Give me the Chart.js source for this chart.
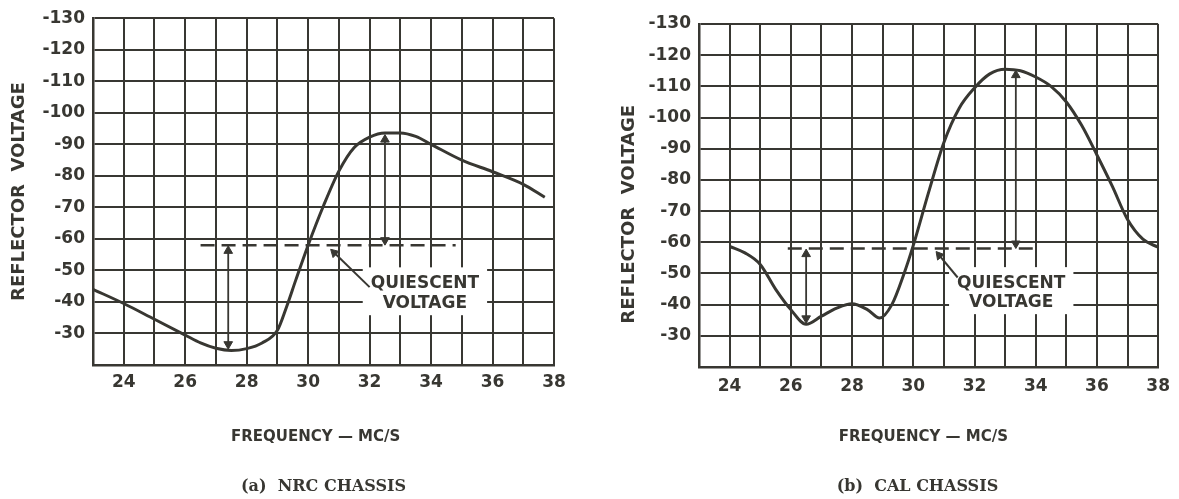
<!DOCTYPE html>
<html><head><meta charset="utf-8">
<script src="https://cdn.jsdelivr.net/npm/chart.js@4/dist/chart.umd.min.js"></script>
<style>
html,body{margin:0;padding:0;background:#fff;width:1179px;height:499px;overflow:hidden;}
.wrap{position:absolute;top:0;height:499px;}
#w1{left:0;width:590px;} #w2{left:590px;width:589px;}
canvas{display:block;}
</style></head><body>
<div class="wrap" id="w1"><canvas id="c1" width="590" height="499"></canvas></div>
<div class="wrap" id="w2"><canvas id="c2" width="589" height="499"></canvas></div>
<script>
// ---------- data ----------
const xTickValues = [24, 26, 28, 30, 32, 34, 36, 38];
const xTickLabels = ['24', '26', '28', '30', '32', '34', '36', '38'];
const yTickValues = [-130, -120, -110, -100, -90, -80, -70, -60, -50, -40, -30];
const yTickLabels = ['-130', '-120', '-110', '-100', '-90', '-80', '-70', '-60', '-50', '-40', '-30'];

// (a) NRC chassis
const nrcFreq = [23, 24, 25, 26, 26.5, 27, 27.5, 28, 28.5, 29, 29.3, 29.6, 30, 30.5, 31, 31.5, 32, 32.5, 33, 33.5, 34, 35, 36, 37, 37.7];
const nrcVolt = [-44, -39.5, -34.5, -29.5, -27, -25.3, -24.6, -25.2, -27, -31, -38.5, -47, -58, -70.5, -81.5, -89, -92.3, -93.6, -93.6, -92.5, -90, -85, -81.3, -77.3, -73.2];
const nrcQuiescentFreq = [26.5, 34.8];
const nrcQuiescentVolt = [-58, -58];
const nrcSwingLowFreq = [27.4, 27.4];
const nrcSwingLowVolt = [-56.2, -26.6];
const nrcSwingHighFreq = [32.5, 32.5];
const nrcSwingHighVolt = [-91.5, -59.6];
const nrcLeaderFreq = [30.85, 32.0];
const nrcLeaderVolt = [-55.6, -44.7];

// (b) CAL chassis
const calFreq = [24, 24.5, 25, 25.5, 26, 26.5, 27, 27.5, 28, 28.5, 28.9, 29.3, 29.7, 30, 30.5, 31, 31.5, 32, 32.5, 33, 33.5, 34, 34.5, 35, 35.5, 36, 36.5, 37, 37.5, 38];
const calVolt = [-58.7, -56.6, -52.9, -45, -38.4, -33.7, -36.3, -38.9, -40.3, -38.4, -35.7, -40, -50, -59, -76, -92, -103, -109.5, -114, -115.5, -115, -113, -110, -105, -97.5, -88, -78, -67.3, -61, -58.4];
const calQuiescentFreq = [25.9, 34.0];
const calQuiescentVolt = [-58, -58];
const calSwingLowFreq = [26.5, 26.5];
const calSwingLowVolt = [-56.2, -35.6];
const calSwingHighFreq = [33.35, 33.35];
const calSwingHighVolt = [-113.6, -59.6];
const calLeaderFreq = [30.85, 31.45];
const calLeaderVolt = [-55.8, -48.7];

// ---------- styling ----------
const INK = '#383732';
const SANS = "'DejaVu Sans', 'Liberation Sans', sans-serif";
const SERIF = "'DejaVu Serif', 'Liberation Serif', serif";

function pts(xs, ys) { return xs.map((x, i) => ({ x: x, y: ys[i] })); }

function arrowDataset(xs, ys) {
  return {
    data: pts(xs, ys), borderColor: INK, backgroundColor: INK, borderWidth: 1.8,
    pointStyle: 'triangle', pointRadius: 5, pointBorderWidth: 1,
    rotation: (c) => c.dataIndex === 0 ? 0 : 180, tension: 0
  };
}
function leaderDataset(xs, ys) {
  return {
    data: pts(xs, ys), borderColor: INK, backgroundColor: INK, borderWidth: 2,
    pointStyle: 'triangle', pointBorderWidth: 1,
    pointRadius: (c) => c.dataIndex === 0 ? 5 : 0,
    rotation: (c) => {
      const ch = c.chart, d = c.dataset.data;
      const x0 = ch.scales.x.getPixelForValue(d[0].x), y0 = ch.scales.y.getPixelForValue(d[0].y);
      const x1 = ch.scales.x.getPixelForValue(d[1].x), y1 = ch.scales.y.getPixelForValue(d[1].y);
      return Math.atan2(x0 - x1, -(y0 - y1)) * 180 / Math.PI;
    },
    tension: 0
  };
}

const quiescentPlugin = {
  id: 'quiescent',
  beforeDatasetsDraw(chart, args, o) {
    const ctx = chart.ctx;
    ctx.save();
    ctx.font = 'bold ' + o.size + 'px ' + SANS;
    const w = Math.max(...o.lines.map(t => ctx.measureText(t).width));
    const cx = chart.scales.x.getPixelForValue(o.x);
    const y1 = chart.scales.y.getPixelForValue(o.y[0]);
    const y2 = chart.scales.y.getPixelForValue(o.y[o.y.length - 1]);
    ctx.fillStyle = '#fff';
    ctx.fillRect(cx - w / 2 - o.padX, y1 - o.padTop, w + 2 * o.padX, y2 - y1 + o.padTop + o.padBottom);
    ctx.restore();
  },
  afterDatasetsDraw(chart, args, o) {
    const ctx = chart.ctx;
    ctx.save();
    ctx.font = 'bold ' + o.size + 'px ' + SANS;
    ctx.fillStyle = INK;
    ctx.textAlign = 'center';
    ctx.textBaseline = 'middle';
    const cx = chart.scales.x.getPixelForValue(o.x);
    o.lines.forEach((t, i) => ctx.fillText(t, cx, chart.scales.y.getPixelForValue(o.y[i])));
    ctx.restore();
  }
};

function makeChart(id, cfg) {
  return new Chart(document.getElementById(id), {
    type: 'line',
    data: {
      datasets: [
        { data: pts(cfg.freq, cfg.volt), borderColor: INK, borderWidth: 3, pointRadius: 0, cubicInterpolationMode: 'monotone', fill: false },
        { data: pts(cfg.qFreq, cfg.qVolt), borderColor: INK, borderWidth: 2.5, borderDash: [14, 7], pointRadius: 0 },
        arrowDataset(cfg.lowFreq, cfg.lowVolt),
        arrowDataset(cfg.highFreq, cfg.highVolt),
        leaderDataset(cfg.leadFreq, cfg.leadVolt)
      ]
    },
    options: {
      responsive: false, animation: false, devicePixelRatio: 1,
      layout: { padding: { top: cfg.padTop, right: cfg.padRight, left: 0, bottom: 0 } },
      plugins: {
        legend: { display: false }, tooltip: { enabled: false },
        title: { display: true, position: 'bottom', fullSize: false, text: cfg.caption, color: INK,
                 font: { family: SERIF, size: 16, weight: 'bold' }, padding: { top: 0, bottom: 3 } },
        quiescent: { x: cfg.qtX, y: cfg.qtY, lines: ['QUIESCENT', 'VOLTAGE'], size: 17, padX: 8, padTop: 16, padBottom: 12 }
      },
      scales: {
        x: {
          type: 'linear', min: 23, max: 38,
          afterFit: (s) => { s.height = cfg.xh; },
          ticks: { stepSize: 1, autoSkip: false, maxRotation: 0, padding: cfg.xPad, color: INK,
                   font: { family: SANS, size: 17, weight: 'bold' },
                   callback: (v) => { const i = xTickValues.indexOf(v); return i < 0 ? '' : xTickLabels[i]; } },
          grid: { color: INK, lineWidth: 2, drawTicks: false },
          border: { color: INK, width: 2.5 },
          title: { display: true, text: cfg.xTitle, color: INK, font: { family: SANS, size: 15, weight: 'bold' }, padding: { top: 0, bottom: 30.8 } }
        },
        y: {
          type: 'linear', min: -130, max: -20, reverse: true,
          afterFit: (s) => { s.width = cfg.yw; },
          ticks: { stepSize: 10, autoSkip: false, padding: 8, color: INK,
                   font: { family: SANS, size: 17, weight: 'bold' },
                   callback: (v) => { const i = yTickValues.indexOf(v); return i < 0 ? '' : yTickLabels[i]; } },
          grid: { color: INK, lineWidth: 2, drawTicks: false },
          border: { color: INK, width: 2.5 },
          title: { display: true, text: cfg.yTitle, color: INK, font: { family: SANS, size: 18, weight: 'bold' }, padding: { top: cfg.ytPad, bottom: 0 } }
        }
      }
    },
    plugins: [quiescentPlugin]
  });
}

makeChart('c1', {
  freq: nrcFreq, volt: nrcVolt, qFreq: nrcQuiescentFreq, qVolt: nrcQuiescentVolt,
  lowFreq: nrcSwingLowFreq, lowVolt: nrcSwingLowVolt, highFreq: nrcSwingHighFreq, highVolt: nrcSwingHighVolt,
  leadFreq: nrcLeaderFreq, leadVolt: nrcLeaderVolt,
  caption: '(a)  NRC CHASSIS', xTitle: 'FREQUENCY — MC/S   ', yTitle: 'REFLECTOR  VOLTAGE',
  qtX: 33.8, qtY: [-45.9, -39.6],
  padTop: 17, padRight: 36, yw: 93, xh: 111.8, xPad: 7, ytPad: 9
});
makeChart('c2', {
  freq: calFreq, volt: calVolt, qFreq: calQuiescentFreq, qVolt: calQuiescentVolt,
  lowFreq: calSwingLowFreq, lowVolt: calSwingLowVolt, highFreq: calSwingHighFreq, highVolt: calSwingHighVolt,
  leadFreq: calLeaderFreq, leadVolt: calLeaderVolt,
  caption: '(b)  CAL CHASSIS    ', xTitle: 'FREQUENCY — MC/S  ', yTitle: 'REFLECTOR  VOLTAGE      ',
  qtX: 33.2, qtY: [-46.9, -40.8],
  padTop: 24, padRight: 17, yw: 109, xh: 109.8, xPad: 9, ytPad: 29
});
</script>
</body></html>
